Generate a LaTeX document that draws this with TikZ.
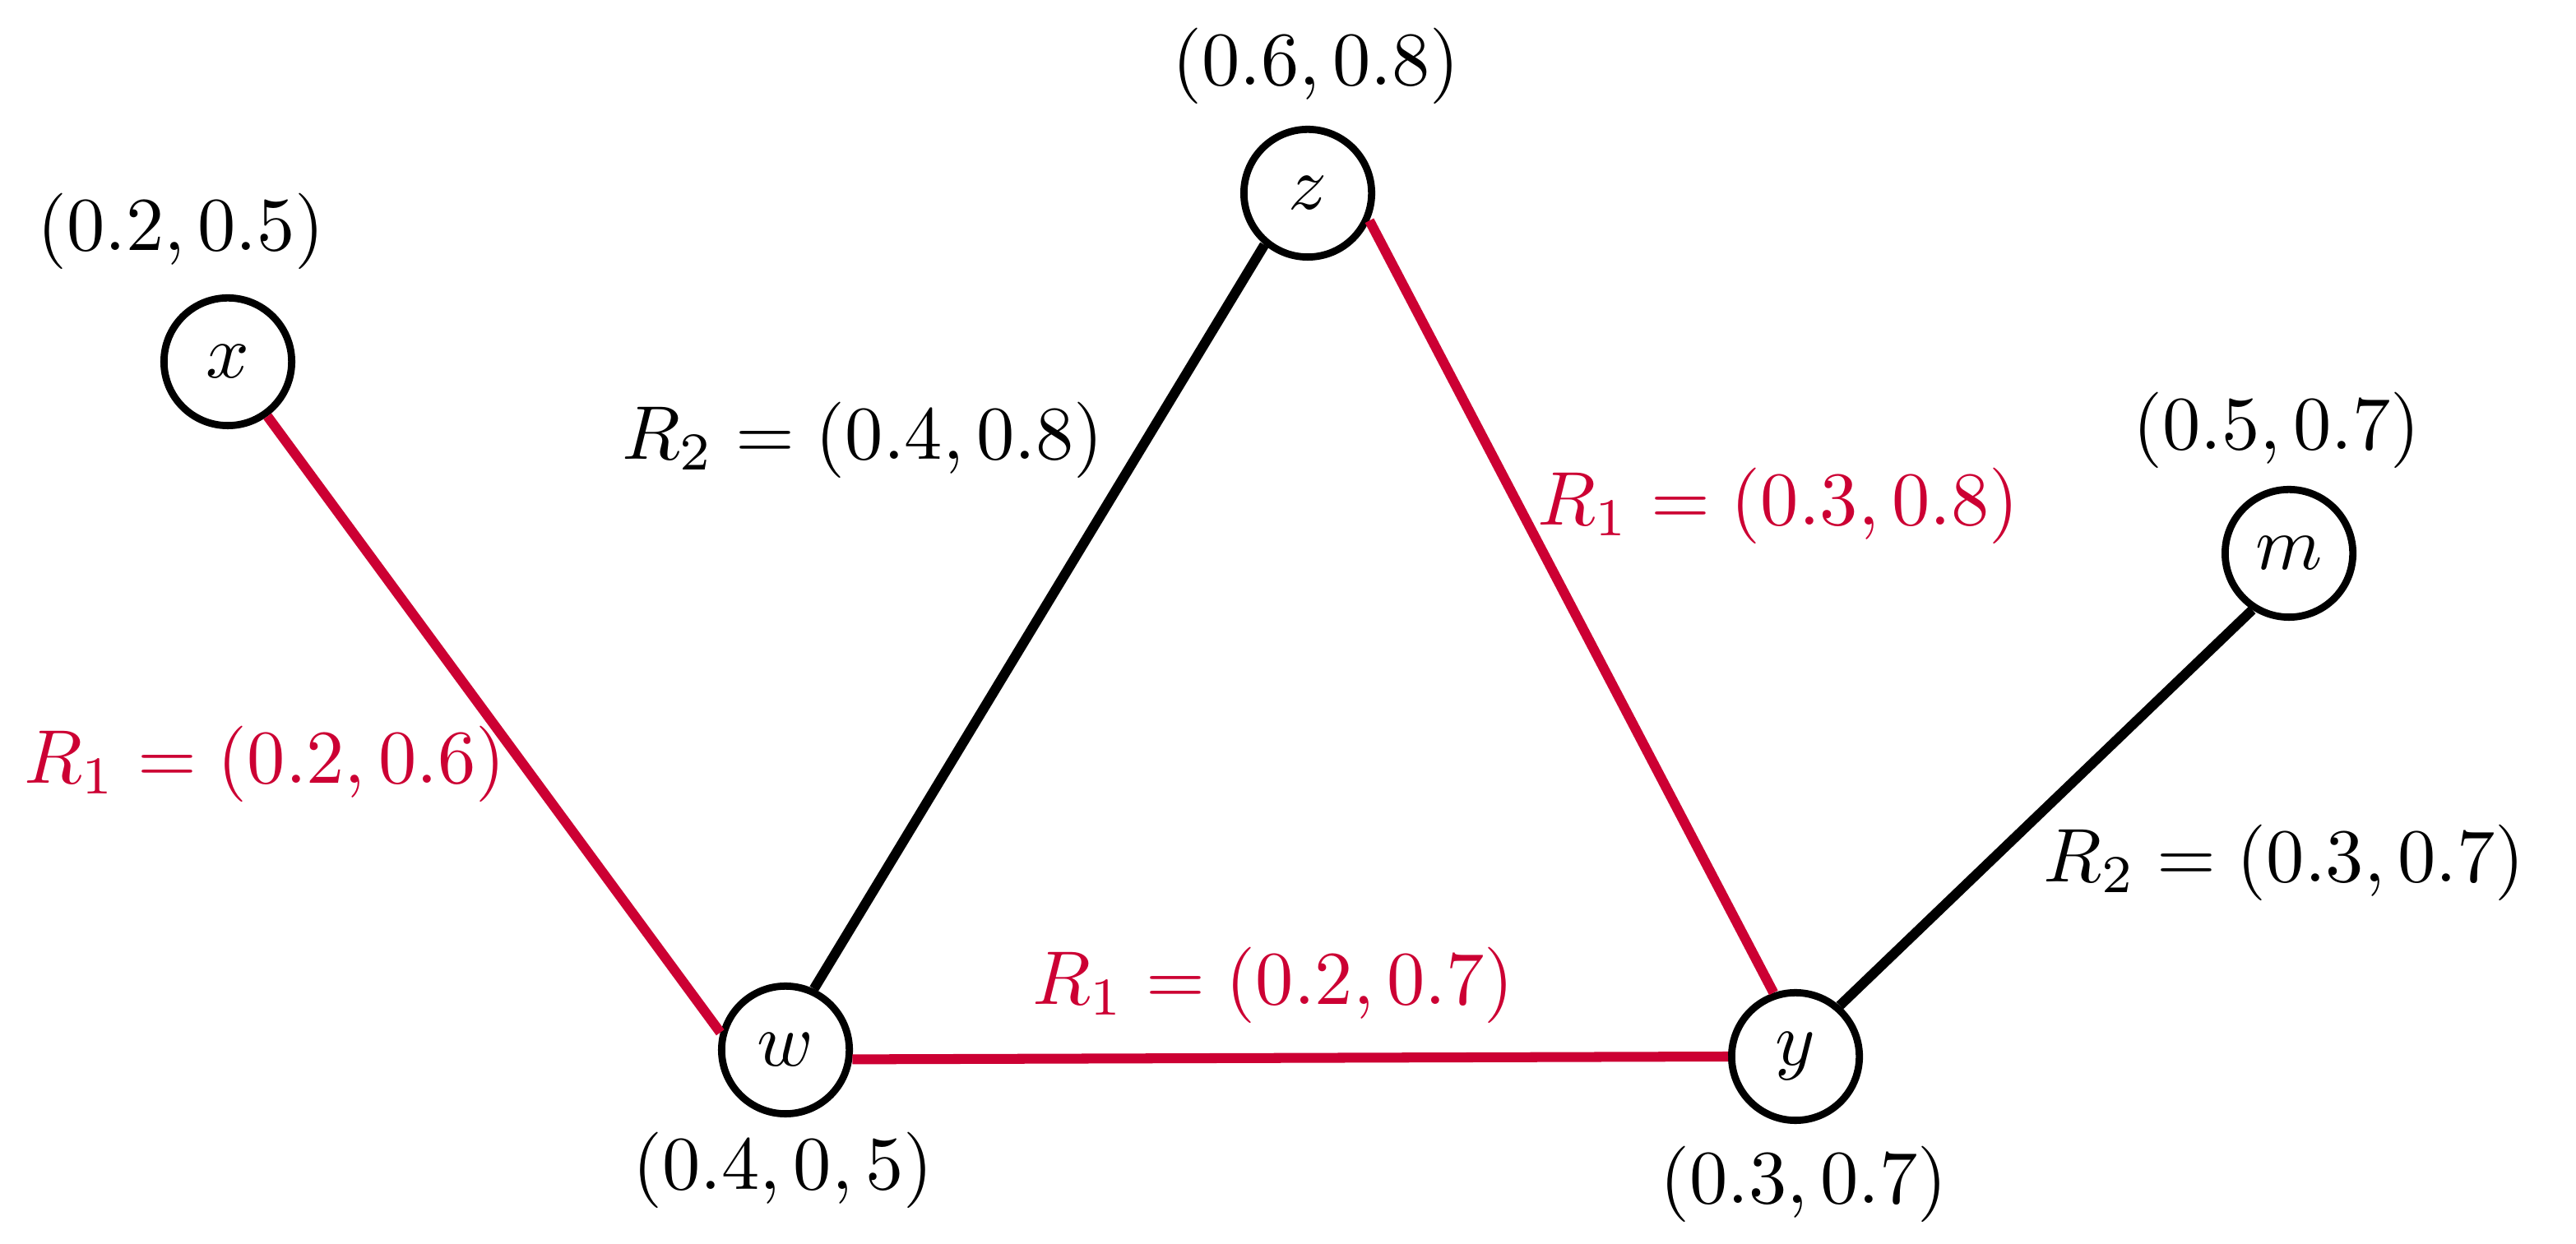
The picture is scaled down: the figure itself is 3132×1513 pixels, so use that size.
\documentclass[tikz,border=0pt]{standalone}
\usepackage{xcolor}
\definecolor{edgered}{RGB}{204,0,51}
\begin{document}
\begin{tikzpicture}[x=0.0038023cm, y=-0.0038023cm,
  vertex/.style={circle, draw=black, line width=0.95pt, minimum size=0.59cm, inner sep=0pt, fill=white},
  lbl/.style={inner sep=0pt, outer sep=0pt},
  rededge/.style={draw=edgered, line width=1.3pt},
  blackedge/.style={draw=black, line width=1.3pt},
  redlbl/.style={lbl, text=edgered}]
\useasboundingbox (0,0) rectangle (3132,1513);
% vertices
\node[vertex] (x) at (277,440) {$x$};
\node[vertex] (z) at (1590,235) {$z$};
\node[vertex] (w) at (955,1277) {$w$};
\node[vertex] (y) at (2183,1285) {$y$};
\node[vertex] (m) at (2783,673) {$m$};
% vertex labels
\node[lbl] (lx) at (220,281) {$(0.2,0.5)$};
\node[lbl] (lz) at (1600,80) {$(0.6,0.8)$};
\node[lbl] (lm) at (2768,523) {$(0.5,0.7)$};
\node[lbl] (lw) at (952,1423) {$(0.4,0,5)$};
\node[lbl] (ly) at (2193,1440) {$(0.3,0.7)$};
% edges
\draw[rededge] (x.-54) -- (w.165);
\draw[blackedge] (w.65) -- (z.230);
\draw[rededge] (w.-8) -- (y.180);
\draw[rededge] (z.-24) -- (y.109);
\draw[blackedge] (y.49) -- (m.237);
% edge labels
\node[redlbl] (e1) at (322,929) {$R_1=(0.2,0.6)$};
\node[lbl] (e2) at (1049,535) {$R_2=(0.4,0.8)$};
\node[redlbl] (e3) at (2162,615) {$R_1=(0.3,0.8)$};
\node[lbl] (e4) at (2777,1049) {$R_2=(0.3,0.7)$};
\node[redlbl] (e5) at (1548,1198) {$R_1=(0.2,0.7)$};
\end{tikzpicture}
\end{document}
